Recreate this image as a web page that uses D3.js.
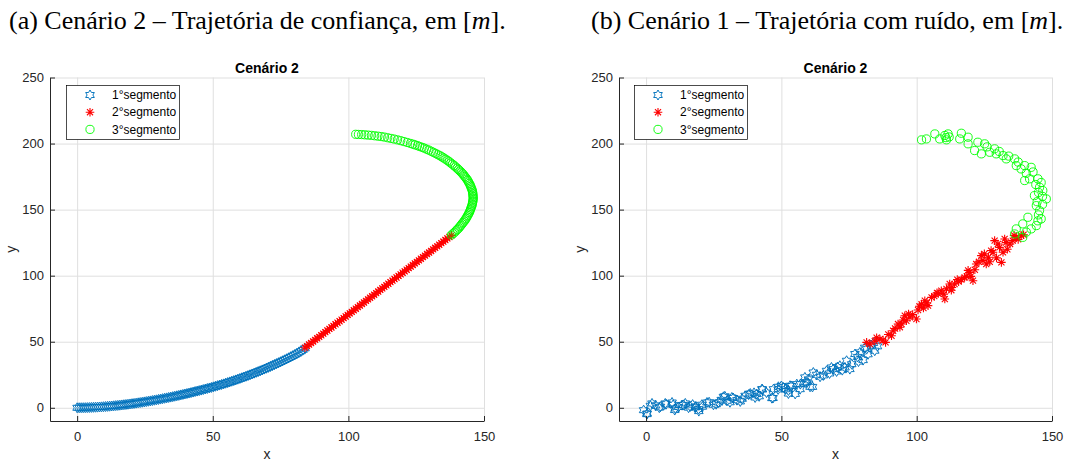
<!DOCTYPE html>
<html><head><meta charset="utf-8">
<script src="https://cdn.jsdelivr.net/npm/d3@7"></script>
<style>body{margin:0;background:#fff} svg{display:block}</style>
</head><body>
<svg id="c" width="1078" height="462"></svg>
<script>
// ---------- data ----------
const xTicks = [0, 50, 100, 150];
const yTicks = [0, 50, 100, 150, 200, 250];
const seriesNames = ["1°segmento", "2°segmento", "3°segmento"];
const seriesColors = ["#0072BD", "#FF0000", "#00FF00"];
const panelTitles = ["Cenário 2", "Cenário 2"];
const captionsMain = ["(a) Cenário 2 – Trajetória de confiança, em [", "(b) Cenário 1 – Trajetória com ruído, em ["];

// Panel (a): smooth trajectory
const aSeg1 = [[0,0],[0.75,0.02],[1.5,0.05],[2.25,0.07],[3,0.1],[3.75,0.15],[4.5,0.2],[5.25,0.27],[6,0.35],[6.75,0.42],[7.5,0.5],[8.25,0.6],[9,0.7],[9.75,0.82],[10.5,0.95],[11.25,1.07],[12,1.2],[12.75,1.35],[13.5,1.5],[14.25,1.65],[15,1.8],[15.75,1.97],[16.5,2.15],[17.25,2.32],[18,2.5],[18.75,2.7],[19.5,2.9],[20.25,3.1],[21,3.3],[21.75,3.52],[22.5,3.75],[23.25,3.97],[24,4.2],[24.75,4.45],[25.5,4.7],[26.25,4.95],[27,5.2],[27.75,5.47],[28.5,5.75],[29.25,6.02],[30,6.3],[30.75,6.6],[31.5,6.9],[32.25,7.2],[33,7.5],[33.75,7.8],[34.5,8.1],[35.25,8.42],[36,8.75],[36.75,9.07],[37.5,9.4],[38.25,9.75],[39,10.1],[39.75,10.45],[40.5,10.8],[41.25,11.15],[42,11.5],[42.75,11.9],[43.5,12.3],[44.25,12.65],[45,13.0],[45.75,13.4],[46.5,13.8],[47.25,14.2],[48,14.6],[48.75,15.0],[49.5,15.4],[50.25,15.85],[51,16.3],[51.75,16.75],[52.5,17.2],[53.25,17.65],[54,18.1],[54.75,18.6],[55.5,19.1],[56.25,19.6],[57,20.1],[57.75,20.6],[58.5,21.1],[59.25,21.65],[60,22.2],[60.75,22.75],[61.5,23.3],[62.25,23.85],[63,24.4],[63.75,25.0],[64.5,25.6],[65.25,26.2],[66,26.8],[66.75,27.4],[67.5,28.0],[68.25,28.65],[69,29.3],[69.75,29.95],[70.5,30.6],[71.25,31.3],[72,32.0],[72.75,32.7],[73.5,33.4],[74.25,34.1],[75,34.8],[75.75,35.55],[76.5,36.3],[77.25,37.05],[78,37.8],[78.75,38.6],[79.5,39.4],[80.25,40.2],[81,41.0],[81.75,41.9],[82.5,42.8],[83.25,43.9],[84,45.0]];
const aSeg2 = [[84,45.5],[84.75,46.7],[85.5,47.9],[86.25,49.0],[87,50.2],[87.75,51.4],[88.5,52.6],[89.25,53.7],[90,54.9],[90.75,56.1],[91.5,57.3],[92.25,58.5],[93,59.7],[93.75,60.8],[94.5,62.0],[95.25,63.2],[96,64.4],[96.75,65.5],[97.5,66.7],[98.25,67.9],[99,69.1],[99.75,70.3],[100.5,71.5],[101.25,72.6],[102,73.8],[102.75,75.0],[103.5,76.2],[104.25,77.4],[105,78.6],[105.75,79.7],[106.5,80.9],[107.25,82.1],[108,83.3],[108.75,84.4],[109.5,85.6],[110.25,86.8],[111,88.0],[111.75,89.2],[112.5,90.4],[113.25,91.5],[114,92.7],[114.75,93.9],[115.5,95.1],[116.25,96.3],[117,97.5],[117.75,98.6],[118.5,99.8],[119.25,101.0],[120,102.2],[120.75,103.3],[121.5,104.5],[122.25,105.7],[123,106.9],[123.75,108.1],[124.5,109.3],[125.25,110.4],[126,111.6],[126.75,112.8],[127.5,114.0],[128.25,115.2],[129,116.4],[129.75,117.5],[130.5,118.7],[131.25,119.9],[132,121.1],[132.75,122.2],[133.5,123.4],[134.25,124.6],[135,125.8],[135.75,127.0],[136.5,128.2],[137.25,129.3],[138,130.5]];
const aSeg3 = [[138.0,130.8],[138.6,131.8],[139.2,132.9],[139.7,134.0],[140.2,135.0],[140.7,136.0],[141.1,137.1],[141.5,138.1],[141.9,139.2],[142.3,140.2],[142.7,141.3],[143.1,142.3],[143.4,143.4],[143.7,144.5],[144.0,145.6],[144.3,146.7],[144.6,147.8],[144.8,148.9],[145.0,150.0],[145.2,151.1],[145.4,152.2],[145.6,153.3],[145.7,154.4],[145.8,155.5],[145.9,156.6],[146.0,157.7],[146.0,158.8],[146.0,159.9],[145.9,161.0],[145.9,162.1],[145.8,163.2],[145.7,164.3],[145.5,165.4],[145.3,166.5],[145.1,167.6],[144.9,168.7],[144.6,169.8],[144.3,170.9],[144.0,172.0],[143.7,173.0],[143.3,174.1],[142.9,175.1],[142.5,176.2],[142.1,177.2],[141.6,178.3],[141.1,179.3],[140.6,180.3],[140.1,181.3],[139.5,182.3],[139.0,183.3],[138.4,184.3],[137.8,185.2],[137.2,186.2],[136.6,187.1],[135.9,188.1],[135.2,189.0],[134.5,189.9],[133.8,190.8],[133.0,191.6],[132.2,192.5],[131.4,193.3],[130.6,194.1],[129.7,195.0],[128.9,195.7],[128.0,196.5],[127.2,197.1],[126.3,197.8],[125.5,198.4],[124.6,199.0],[123.8,199.5],[122.9,200.1],[121.7,200.8],[120.5,201.5],[119.3,202.2],[118.1,202.8],[116.9,203.4],[115.7,203.9],[114.5,204.4],[113.3,204.9],[112.1,205.3],[110.9,205.6],[109.7,205.9],[108.5,206.2],[107.3,206.4],[106.1,206.6],[104.9,206.8],[103.7,206.9],[102.7,207.0]];

// Panel (b): noisy trajectory
const bSeg1 = [[-0.9,-1.8],[0.4,-4.3],[1.6,1.5],[2.2,3.3],[5.3,0.8],[7.1,3.3],[9.6,4.0],[10.8,-0.5],[13.3,2.0],[14.5,3.3],[16.3,1.0],[18.2,0.3],[19.4,-1.0],[20.6,2.3],[22.5,4.0],[24.9,2.3],[26.8,4.0],[28.6,8.3],[29.9,5.3],[31.7,7.8],[33.6,5.8],[36.6,9.1],[38.5,10.8],[40.3,7.8],[40.9,10.4],[42.8,14.1],[46.5,7.3],[47.1,14.1],[48.9,15.9],[50.7,15.4],[52.6,10.8],[53.2,16.7],[55.7,17.9],[56.9,14.1],[58.7,23.0],[59.4,19.2],[60.6,15.9],[61.8,26.7],[64.3,23.5],[66.7,28.0],[69.2,29.3],[70.4,27.5],[71.6,31.8],[73.5,30.5],[74.1,35.6],[75.3,29.3],[77.2,40.7],[79.0,41.9],[80.2,36.1],[81.5,44.4],[83.3,47.0],[84.5,43.2],
  [0.3,-4.8],[4.9,0.1],[7.4,2.7],[10.0,2.2],[10.6,-1.7],[13.8,2.2],[15.7,0.1],[18.3,0.8],[19.5,-2.5],[20.8,0.8],[23.3,4.2],[25.9,2.7],[29.1,8.7],[31.0,4.2],[32.2,7.4],[34.8,4.8],[37.9,10.0],[39.9,11.3],[41.8,8.7],[43.0,13.9],[46.9,7.4],[48.8,13.9],[50.0,16.5],[52.6,13.1],[53.8,16.5],[55.1,10.5],[57.0,17.9],[58.9,19.2],[61.5,15.8],
  [63.0,25.0],[65.5,24.5],[67.8,26.0],[68.5,30.5],[72.5,28.5],[76.0,33.0],[78.2,38.5],[82.0,40.5],[84.0,49.0],[85.5,46.5],[80.8,45.5],
  [3.5,1.8],[12.0,0.6],[17.2,2.4],[27.8,6.0],[35.5,6.8],[44.5,11.5],[51.5,14.0],[60.0,21.5],[70.8,30.8],[78.5,35.0]];
const bSeg2 = [[81.5,49.5],[82.7,48.2],[86.4,52.0],[87.6,51.3],[90.7,54.5],[91.3,58.3],[93.1,63.4],[94.4,63.4],[95.6,69.7],[96.2,65.9],[99.9,67.2],[101.8,78.5],[103.0,81.0],[104.2,77.3],[105.5,83.6],[109.1,88.6],[110.4,82.3],[112.2,93.7],[114.0,93.7],[117.7,98.7],[119.6,102.5],[120.8,96.2],[122.0,108.8],[123.9,115.2],[125.7,108.8],[128.2,117.7],[128.8,126.5],[130.6,121.4],[131.3,110.1],[131.9,117.7],[132.5,127.8],[135.5,126.5],[136.8,129.0],[138.6,130.3],
  [84.5,50.5],[88.5,49.5],[92.0,60.0],[97.5,68.5],[98.5,70.5],[100.5,74.0],[102.5,75.5],[106.5,84.5],[107.5,87.0],[111.0,90.0],[113.0,91.0],[115.5,95.5],[116.5,97.0],[118.5,99.5],[121.5,104.5],[124.5,111.5],[126.5,114.0],[127.0,110.5],[129.5,113.5],[133.5,120.0],[134.5,124.0],[137.5,127.5],[139.5,131.0],
  [85.2,53.0],[89.5,55.5],[93.8,61.0],[95.0,66.5],[97.0,71.0],[101.0,76.8],[103.8,79.5],[108.0,86.5],[110.0,86.0],[112.8,89.0],[115.0,97.0],[119.0,104.0],[120.0,99.5],[123.0,110.5],[125.0,116.5],[127.5,119.0],[130.0,124.0],[133.0,125.0],[136.0,130.5]];
const bSeg3 = [[101.8,202.8],[103.6,203.5],[106.7,207.3],[108.5,203.5],[110.4,206.1],[111.6,207.3],[111.0,202.8],[116.5,207.8],[115.9,203.5],[119.0,204.8],[119.0,199.8],[121.4,194.7],[122.6,201.0],[123.9,192.2],[125.1,199.8],[127.0,193.4],[128.8,196.0],[129.4,192.2],[131.9,190.9],[133.1,188.4],[136.2,188.4],[136.8,183.3],[138.6,180.8],[139.9,183.3],[142.3,182.0],[139.9,172.0],[141.7,173.3],[144.8,173.3],[145.4,166.9],[146.6,164.4],[147.9,158.1],[143.5,160.6],[144.2,153.0],[145.4,149.2],[146.0,143.0],[144.2,137.9],[142.3,135.4],[141.1,144.2],[139.2,139.2],[136.8,135.4],[136.2,131.6],[139.2,129.0],
  [112.0,205.0],[110.8,204.5],[126.0,197.5],[130.5,194.0],[134.0,190.5],[137.5,186.0],[140.5,177.5],[143.0,178.5],[144.0,169.0],[146.0,170.5],[145.0,163.0],[146.5,160.0],[144.5,156.0],[146.5,154.0],[145.0,146.0],[144.8,141.5],[140.5,133.0]];

// ---------- drawing ----------
const svg = d3.select("#c");
const AX = "#262626", GRID = "#dfdfdf";
const FONT = "Liberation Sans, Arial, sans-serif";

function hexagramPath(R) {
  const r = R / Math.sqrt(3);
  const pts = [];
  for (let i = 0; i < 12; i++) {
    const a = -Math.PI / 2 + i * Math.PI / 6;
    const rr = i % 2 === 0 ? R : r;
    pts.push([rr * Math.cos(a), rr * Math.sin(a)]);
  }
  return "M" + pts.map(p => p[0].toFixed(2) + "," + p[1].toFixed(2)).join("L") + "Z";
}
function asteriskPath(L) {
  const d = L * Math.SQRT1_2;
  return `M${-L},0L${L},0M0,${-L}L0,${L}M${-d},${-d}L${d},${d}M${-d},${d}L${d},${-d}`;
}
const markerPaths = [hexagramPath(5.0), asteriskPath(4.3), null];

function drawMarkers(g, data, k, x, y) {
  if (k === 2) {
    g.selectAll(null).data(data).enter().append("circle")
      .attr("cx", d => x(d[0])).attr("cy", d => y(d[1])).attr("r", 4.1)
      .attr("fill", "none").attr("stroke", seriesColors[k]).attr("stroke-width", 0.9);
  } else {
    g.selectAll(null).data(data).enter().append("path")
      .attr("transform", d => `translate(${x(d[0])},${y(d[1])})`)
      .attr("d", markerPaths[k])
      .attr("fill", "none").attr("stroke", seriesColors[k]).attr("stroke-width", k === 1 ? 1.1 : 0.95);
  }
}

function panel(x0, x1, segs, title, legX) {
  const y0 = 421, y1 = 77.5;
  const x = d3.scaleLinear().domain([-10, 150]).range([x0, x1]);
  const y = d3.scaleLinear().domain([-10, 250]).range([y0, y1]);
  const g = svg.append("g");
  // grid
  g.append("g").attr("transform", `translate(0,${y0})`)
    .call(d3.axisBottom(x).tickValues(xTicks).tickSize(-(y0 - y1)).tickFormat(""))
    .call(s => { s.select(".domain").remove(); s.selectAll("line").attr("stroke", GRID); });
  g.append("g").attr("transform", `translate(${x0},0)`)
    .call(d3.axisLeft(y).tickValues(yTicks).tickSize(-(x1 - x0)).tickFormat(""))
    .call(s => { s.select(".domain").remove(); s.selectAll("line").attr("stroke", GRID); });
  // data
  segs.forEach((s, k) => drawMarkers(g.append("g"), s, k, x, y));
  // axes
  const xa = g.append("g").attr("transform", `translate(0,${y0})`)
    .call(d3.axisBottom(x).tickValues(xTicks).tickSize(-5).tickPadding(11).tickSizeOuter(0));
  const ya = g.append("g").attr("transform", `translate(${x0},0)`)
    .call(d3.axisLeft(y).tickValues(yTicks).tickSize(-5).tickPadding(6).tickSizeOuter(0));
  [xa, ya].forEach(a => {
    a.select(".domain").attr("stroke", AX).attr("stroke-width", 1);
    a.selectAll("line").attr("stroke", AX);
    a.selectAll("text").attr("fill", AX).attr("font-family", FONT).attr("font-size", 13);
  });
  // labels
  g.append("text").attr("x", (x0 + x1) / 2).attr("y", 455).attr("dy", "0.3em").attr("text-anchor", "middle")
    .attr("font-family", FONT).attr("font-size", 14).attr("fill", AX).text("x");
  g.append("text").attr("transform", `translate(${x0 - 38},${(y0 + y1) / 2}) rotate(-90)`).attr("text-anchor", "middle")
    .attr("dy", "0.3em").attr("font-family", FONT).attr("font-size", 14).attr("fill", AX).text("y");
  g.append("text").attr("x", (x0 + x1) / 2).attr("y", 73).attr("text-anchor", "middle")
    .attr("font-family", FONT).attr("font-size", 14).attr("font-weight", "bold").attr("fill", "#000").text(title);
  // legend
  const lg = g.append("g").attr("transform", `translate(${legX},85)`);
  lg.append("rect").attr("x", 0.5).attr("y", 0.5).attr("width", 113).attr("height", 54)
    .attr("fill", "#fff").attr("stroke", "#000").attr("stroke-width", 0.7);
  seriesNames.forEach((n, k) => {
    const cy = 10 + k * 17.2;
    const mg = lg.append("g");
    drawMarkers(mg, [[0, 0]], k, () => 24, () => cy);
    lg.append("text").attr("x", 46).attr("y", cy).attr("dy", "0.35em")
      .attr("font-family", FONT).attr("font-size", 12).attr("fill", "#000").text(n);
  });
}

panel(50, 484, [aSeg1, aSeg2, aSeg3], panelTitles[0], 66);
panel(619, 1052, [bSeg1, bSeg2, bSeg3], panelTitles[1], 634);

// captions
[[9, 0], [591, 1]].forEach(([cx, i]) => {
  const t = svg.append("text").attr("x", cx).attr("y", 29)
    .attr("font-family", "Liberation Serif, Times New Roman, serif").attr("font-size", 26).attr("fill", "#000");
  t.append("tspan").text(captionsMain[i]);
  t.append("tspan").attr("font-style", "italic").text("m");
  t.append("tspan").text("].");
});
</script>
</body></html>
